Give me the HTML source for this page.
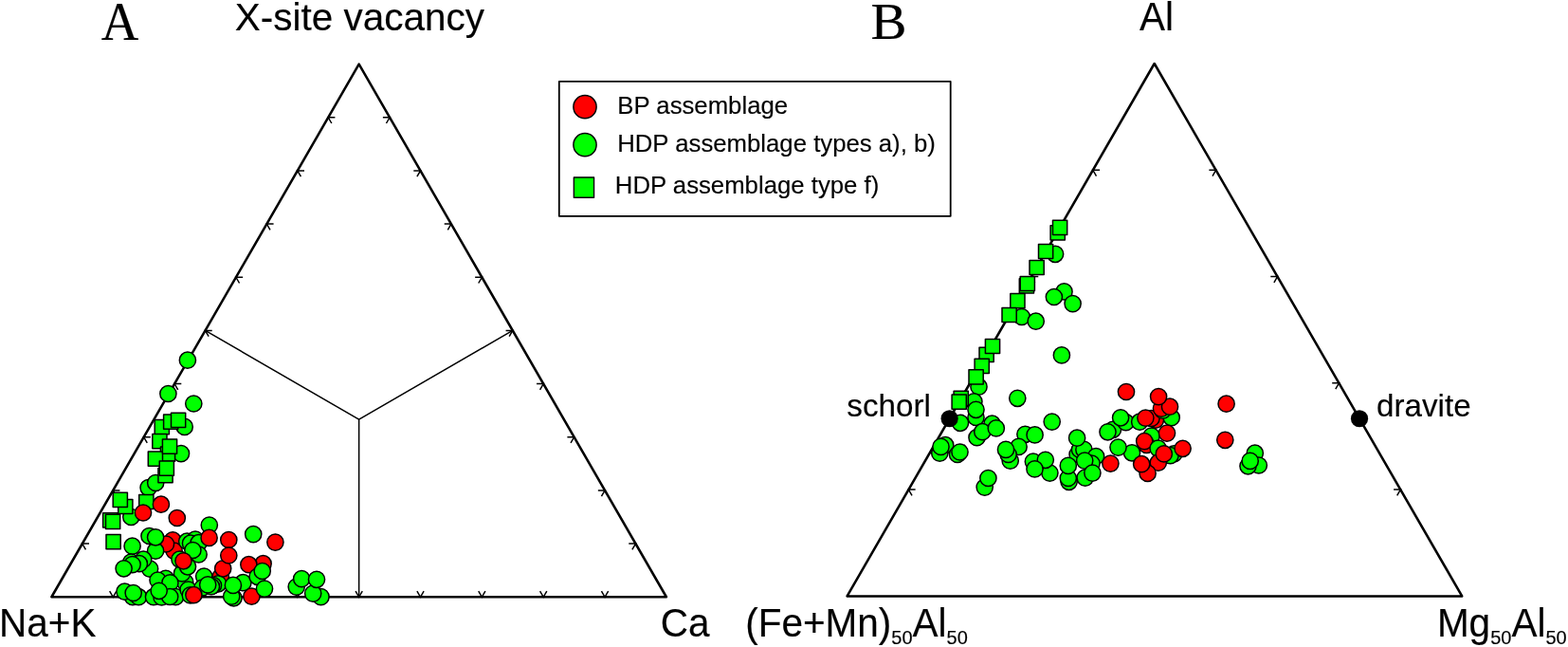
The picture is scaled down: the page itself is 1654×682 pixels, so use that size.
<!DOCTYPE html>
<html lang="en">
<head>
<meta charset="utf-8">
<title>Ternary diagrams</title>
<style>
html,body{margin:0;padding:0;background:#fff;}
body{width:1654px;height:682px;overflow:hidden;}
svg{display:block;}
</style>
</head>
<body>
<svg width="1654" height="682" viewBox="0 0 1654 682" role="img" aria-label="Ternary diagrams A and B">
<rect width="1654" height="682" fill="#fff"/>
<polygon points="54.40,629.25 702.90,629.25 378.65,67.60" fill="none" stroke="#000" stroke-width="2.55" stroke-linejoin="round"/>
<path d="M353.42 123.76 L346.22 123.76 L349.82 130.00 M407.47 130.00 L411.07 123.76 L403.88 123.76 M321.00 179.93 L313.80 179.93 L317.40 186.17 M439.90 186.17 L443.50 179.93 L436.30 179.93 M288.57 236.09 L281.38 236.09 L284.98 242.33 M472.32 242.33 L475.92 236.09 L468.72 236.09 M256.15 292.26 L248.95 292.26 L252.55 298.50 M504.75 298.50 L508.35 292.26 L501.15 292.26 M223.72 348.42 L216.52 348.42 L220.12 354.66 M537.17 354.66 L540.77 348.42 L533.57 348.42 M191.30 404.59 L184.10 404.59 L187.70 410.83 M569.60 410.83 L573.20 404.59 L566.00 404.59 M158.87 460.75 L151.67 460.75 L155.27 466.99 M602.02 466.99 L605.62 460.75 L598.42 460.75 M126.45 516.92 L119.25 516.92 L122.85 523.16 M634.45 523.16 L638.05 516.92 L630.85 516.92 M94.02 573.09 L86.82 573.09 L90.42 579.32 M666.87 579.32 L670.47 573.09 L663.27 573.09 M115.65 623.01 L119.25 629.25 L122.85 623.01 M180.50 623.01 L184.10 629.25 L187.70 623.01 M245.35 623.01 L248.95 629.25 L252.55 623.01 M310.20 623.01 L313.80 629.25 L317.40 623.01 M375.05 623.01 L378.65 629.25 L382.25 623.01 M439.90 623.01 L443.50 629.25 L447.10 623.01 M504.75 623.01 L508.35 629.25 L511.95 623.01 M569.60 623.01 L573.20 629.25 L576.80 623.01 M634.45 623.01 L638.05 629.25 L641.65 623.01" fill="none" stroke="#000" stroke-width="1.50"/>
<path d="M378.65 442.03 L216.52 348.42 M378.65 442.03 L540.77 348.42 M378.65 442.03 L378.65 629.25" fill="none" stroke="#000" stroke-width="1.50"/>
<polygon points="893.60,628.40 1542.20,628.40 1217.70,67.00" fill="none" stroke="#000" stroke-width="2.55" stroke-linejoin="round"/>
<path d="M1160.08 179.28 L1152.88 179.28 L1156.48 185.52 M1279.00 185.52 L1282.60 179.28 L1275.40 179.28 M1095.26 291.56 L1088.06 291.56 L1091.66 297.80 M1343.90 297.80 L1347.50 291.56 L1340.30 291.56 M1030.44 403.84 L1023.24 403.84 L1026.84 410.08 M1408.80 410.08 L1412.40 403.84 L1405.20 403.84 M965.62 516.12 L958.42 516.12 L962.02 522.36 M1473.70 522.36 L1477.30 516.12 L1470.10 516.12" fill="none" stroke="#000" stroke-width="1.50"/>
<g stroke="#000" stroke-width="1.50" stroke-linejoin="round">
<circle cx="197.90" cy="379.70" r="8.60" fill="#00ff00"/>
<circle cx="177.40" cy="415.00" r="8.60" fill="#00ff00"/>
<circle cx="204.30" cy="425.50" r="8.60" fill="#00ff00"/>
<circle cx="194.70" cy="449.90" r="8.60" fill="#00ff00"/>
<circle cx="191.00" cy="478.10" r="8.60" fill="#00ff00"/>
<rect x="163.20" y="442.60" width="15.20" height="15.20" fill="#00ff00"/>
<rect x="172.60" y="437.00" width="15.20" height="15.20" fill="#00ff00"/>
<rect x="180.50" y="435.20" width="15.20" height="15.20" fill="#00ff00"/>
<rect x="160.80" y="457.50" width="15.20" height="15.20" fill="#00ff00"/>
<rect x="169.40" y="471.00" width="15.20" height="15.20" fill="#00ff00"/>
<rect x="156.30" y="476.10" width="15.20" height="15.20" fill="#00ff00"/>
<rect x="171.40" y="463.00" width="15.20" height="15.20" fill="#00ff00"/>
<circle cx="156.60" cy="514.10" r="8.60" fill="#00ff00"/>
<circle cx="164.20" cy="509.00" r="8.60" fill="#00ff00"/>
<rect x="166.90" y="493.50" width="15.20" height="15.20" fill="#00ff00"/>
<rect x="168.20" y="486.00" width="15.20" height="15.20" fill="#00ff00"/>
<rect x="146.70" y="521.40" width="15.20" height="15.20" fill="#00ff00"/>
<circle cx="138.30" cy="545.00" r="8.60" fill="#00ff00"/>
<rect x="124.70" y="526.40" width="15.20" height="15.20" fill="#00ff00"/>
<rect x="119.20" y="519.30" width="15.20" height="15.20" fill="#00ff00"/>
<circle cx="169.90" cy="531.70" r="8.60" fill="#ff0000"/>
<circle cx="151.00" cy="540.50" r="8.60" fill="#ff0000"/>
<circle cx="186.80" cy="546.00" r="8.60" fill="#ff0000"/>
<rect x="108.60" y="540.80" width="15.20" height="15.20" fill="#00ff00"/>
<rect x="111.50" y="542.30" width="15.20" height="15.20" fill="#00ff00"/>
<rect x="112.00" y="563.50" width="15.20" height="15.20" fill="#00ff00"/>
<circle cx="220.80" cy="553.50" r="8.60" fill="#00ff00"/>
<circle cx="182.20" cy="569.30" r="8.60" fill="#ff0000"/>
<circle cx="183.60" cy="580.60" r="8.60" fill="#ff0000"/>
<circle cx="175.00" cy="573.50" r="8.60" fill="#ff0000"/>
<circle cx="157.50" cy="565.00" r="8.60" fill="#00ff00"/>
<circle cx="164.10" cy="580.70" r="8.60" fill="#00ff00"/>
<circle cx="164.10" cy="566.30" r="8.60" fill="#00ff00"/>
<circle cx="139.60" cy="575.70" r="8.60" fill="#00ff00"/>
<circle cx="197.20" cy="570.70" r="8.60" fill="#00ff00"/>
<circle cx="206.00" cy="568.60" r="8.60" fill="#00ff00"/>
<circle cx="201.00" cy="572.70" r="8.60" fill="#00ff00"/>
<circle cx="209.60" cy="572.20" r="8.60" fill="#00ff00"/>
<circle cx="209.60" cy="584.50" r="8.60" fill="#00ff00"/>
<circle cx="203.40" cy="580.00" r="8.60" fill="#00ff00"/>
<circle cx="220.60" cy="566.90" r="8.60" fill="#ff0000"/>
<circle cx="195.20" cy="613.60" r="8.60" fill="#00ff00"/>
<circle cx="192.00" cy="604.40" r="8.60" fill="#00ff00"/>
<circle cx="198.00" cy="597.30" r="8.60" fill="#00ff00"/>
<circle cx="189.50" cy="589.60" r="8.60" fill="#00ff00"/>
<circle cx="193.50" cy="591.30" r="8.60" fill="#ff0000"/>
<circle cx="158.10" cy="599.60" r="8.60" fill="#00ff00"/>
<circle cx="151.20" cy="589.70" r="8.60" fill="#00ff00"/>
<circle cx="138.30" cy="592.50" r="8.60" fill="#00ff00"/>
<circle cx="146.90" cy="594.20" r="8.60" fill="#00ff00"/>
<circle cx="139.60" cy="595.10" r="8.60" fill="#00ff00"/>
<circle cx="130.60" cy="599.30" r="8.60" fill="#00ff00"/>
<circle cx="174.80" cy="609.80" r="8.60" fill="#00ff00"/>
<circle cx="166.50" cy="611.60" r="8.60" fill="#00ff00"/>
<circle cx="179.40" cy="614.40" r="8.60" fill="#00ff00"/>
<circle cx="140.00" cy="629.20" r="8.60" fill="#00ff00"/>
<circle cx="146.20" cy="629.20" r="8.60" fill="#00ff00"/>
<circle cx="131.50" cy="623.70" r="8.60" fill="#00ff00"/>
<circle cx="140.70" cy="625.00" r="8.60" fill="#00ff00"/>
<circle cx="162.00" cy="629.20" r="8.60" fill="#00ff00"/>
<circle cx="170.50" cy="629.50" r="8.60" fill="#00ff00"/>
<circle cx="185.20" cy="629.20" r="8.60" fill="#00ff00"/>
<circle cx="179.20" cy="629.00" r="8.60" fill="#00ff00"/>
<circle cx="167.70" cy="622.80" r="8.60" fill="#00ff00"/>
<circle cx="198.60" cy="621.60" r="8.60" fill="#00ff00"/>
<circle cx="200.80" cy="627.40" r="8.60" fill="#00ff00"/>
<circle cx="232.80" cy="607.80" r="8.60" fill="#ff0000"/>
<circle cx="215.20" cy="607.60" r="8.60" fill="#00ff00"/>
<circle cx="213.50" cy="619.50" r="8.60" fill="#00ff00"/>
<circle cx="230.20" cy="615.30" r="8.60" fill="#00ff00"/>
<circle cx="225.00" cy="617.00" r="8.60" fill="#00ff00"/>
<circle cx="222.90" cy="618.20" r="8.60" fill="#00ff00"/>
<circle cx="219.20" cy="616.40" r="8.60" fill="#00ff00"/>
<circle cx="204.40" cy="627.20" r="8.60" fill="#ff0000"/>
<circle cx="235.20" cy="599.30" r="8.60" fill="#ff0000"/>
<circle cx="241.30" cy="569.00" r="8.60" fill="#ff0000"/>
<circle cx="241.30" cy="585.50" r="8.60" fill="#ff0000"/>
<circle cx="246.50" cy="630.30" r="8.60" fill="#00ff00"/>
<circle cx="244.20" cy="628.70" r="8.60" fill="#00ff00"/>
<circle cx="256.40" cy="614.20" r="8.60" fill="#00ff00"/>
<circle cx="245.90" cy="616.90" r="8.60" fill="#00ff00"/>
<circle cx="265.40" cy="628.70" r="8.60" fill="#ff0000"/>
<circle cx="277.60" cy="594.20" r="8.60" fill="#ff0000"/>
<circle cx="262.40" cy="595.20" r="8.60" fill="#ff0000"/>
<circle cx="271.60" cy="607.80" r="8.60" fill="#00ff00"/>
<circle cx="276.70" cy="602.00" r="8.60" fill="#00ff00"/>
<circle cx="279.00" cy="620.60" r="8.60" fill="#00ff00"/>
<circle cx="267.20" cy="563.10" r="8.60" fill="#00ff00"/>
<circle cx="290.40" cy="571.60" r="8.60" fill="#ff0000"/>
<circle cx="312.70" cy="618.60" r="8.60" fill="#00ff00"/>
<circle cx="318.20" cy="610.10" r="8.60" fill="#00ff00"/>
<circle cx="338.50" cy="629.10" r="8.60" fill="#00ff00"/>
<circle cx="330.20" cy="625.60" r="8.60" fill="#00ff00"/>
<circle cx="334.00" cy="610.80" r="8.60" fill="#00ff00"/>
<rect x="1108.10" y="237.80" width="15.20" height="15.20" fill="#00ff00"/>
<rect x="1110.50" y="232.30" width="15.20" height="15.20" fill="#00ff00"/>
<circle cx="1113.10" cy="267.80" r="8.60" fill="#00ff00"/>
<rect x="1095.50" y="257.40" width="15.20" height="15.20" fill="#00ff00"/>
<rect x="1086.00" y="274.40" width="15.20" height="15.20" fill="#00ff00"/>
<rect x="1075.30" y="293.70" width="15.20" height="15.20" fill="#00ff00"/>
<rect x="1076.20" y="291.40" width="15.20" height="15.20" fill="#00ff00"/>
<rect x="1065.80" y="309.60" width="15.20" height="15.20" fill="#00ff00"/>
<circle cx="1077.80" cy="334.00" r="8.60" fill="#00ff00"/>
<circle cx="1092.70" cy="338.70" r="8.60" fill="#00ff00"/>
<rect x="1057.00" y="324.40" width="15.20" height="15.20" fill="#00ff00"/>
<rect x="1033.00" y="366.30" width="15.20" height="15.20" fill="#00ff00"/>
<rect x="1039.40" y="357.40" width="15.20" height="15.20" fill="#00ff00"/>
<rect x="1028.10" y="378.20" width="15.20" height="15.20" fill="#00ff00"/>
<circle cx="1032.50" cy="407.70" r="8.60" fill="#00ff00"/>
<rect x="1022.00" y="389.80" width="15.20" height="15.20" fill="#00ff00"/>
<circle cx="1122.50" cy="307.40" r="8.60" fill="#00ff00"/>
<circle cx="1111.90" cy="313.00" r="8.60" fill="#00ff00"/>
<circle cx="1131.60" cy="320.10" r="8.60" fill="#00ff00"/>
<circle cx="1119.90" cy="374.40" r="8.60" fill="#00ff00"/>
<circle cx="1073.30" cy="419.80" r="8.60" fill="#00ff00"/>
<circle cx="1109.70" cy="444.60" r="8.60" fill="#00ff00"/>
<circle cx="1027.40" cy="423.30" r="8.60" fill="#00ff00"/>
<rect x="1006.10" y="412.30" width="15.20" height="15.20" fill="#00ff00"/>
<rect x="1004.10" y="416.10" width="15.20" height="15.20" fill="#00ff00"/>
<circle cx="1029.50" cy="439.90" r="8.60" fill="#00ff00"/>
<circle cx="1029.50" cy="431.80" r="8.60" fill="#00ff00"/>
<circle cx="1013.00" cy="445.80" r="8.60" fill="#00ff00"/>
<circle cx="1046.50" cy="446.70" r="8.60" fill="#00ff00"/>
<circle cx="1030.50" cy="461.20" r="8.60" fill="#00ff00"/>
<circle cx="1036.30" cy="455.20" r="8.60" fill="#00ff00"/>
<circle cx="1050.80" cy="451.40" r="8.60" fill="#00ff00"/>
<circle cx="997.20" cy="469.20" r="8.60" fill="#00ff00"/>
<circle cx="991.30" cy="477.70" r="8.60" fill="#00ff00"/>
<circle cx="992.50" cy="470.90" r="8.60" fill="#00ff00"/>
<circle cx="1010.00" cy="479.00" r="8.60" fill="#00ff00"/>
<circle cx="1012.50" cy="476.50" r="8.60" fill="#00ff00"/>
<circle cx="1081.40" cy="457.80" r="8.60" fill="#00ff00"/>
<circle cx="1091.60" cy="458.40" r="8.60" fill="#00ff00"/>
<circle cx="1074.60" cy="470.90" r="8.60" fill="#00ff00"/>
<circle cx="1065.70" cy="485.70" r="8.60" fill="#00ff00"/>
<circle cx="1063.60" cy="479.00" r="8.60" fill="#00ff00"/>
<circle cx="1061.00" cy="473.90" r="8.60" fill="#00ff00"/>
<circle cx="1107.40" cy="498.60" r="8.60" fill="#00ff00"/>
<circle cx="1089.90" cy="486.60" r="8.60" fill="#00ff00"/>
<circle cx="1102.80" cy="484.80" r="8.60" fill="#00ff00"/>
<circle cx="1091.50" cy="494.40" r="8.60" fill="#00ff00"/>
<circle cx="1038.70" cy="513.60" r="8.60" fill="#00ff00"/>
<circle cx="1042.40" cy="504.00" r="8.60" fill="#00ff00"/>
<circle cx="1136.60" cy="479.00" r="8.60" fill="#00ff00"/>
<circle cx="1139.00" cy="474.00" r="8.60" fill="#00ff00"/>
<circle cx="1143.40" cy="473.90" r="8.60" fill="#00ff00"/>
<circle cx="1136.10" cy="461.70" r="8.60" fill="#00ff00"/>
<circle cx="1156.10" cy="481.00" r="8.60" fill="#00ff00"/>
<circle cx="1151.50" cy="488.60" r="8.60" fill="#00ff00"/>
<circle cx="1144.20" cy="485.60" r="8.60" fill="#00ff00"/>
<circle cx="1127.60" cy="507.80" r="8.60" fill="#00ff00"/>
<circle cx="1126.80" cy="504.00" r="8.60" fill="#00ff00"/>
<circle cx="1126.80" cy="490.90" r="8.60" fill="#00ff00"/>
<circle cx="1144.70" cy="503.60" r="8.60" fill="#00ff00"/>
<circle cx="1152.40" cy="498.60" r="8.60" fill="#00ff00"/>
<circle cx="1171.40" cy="488.60" r="8.60" fill="#ff0000"/>
<circle cx="1174.00" cy="452.80" r="8.60" fill="#00ff00"/>
<circle cx="1168.50" cy="455.30" r="8.60" fill="#00ff00"/>
<circle cx="1187.60" cy="445.20" r="8.60" fill="#00ff00"/>
<circle cx="1182.10" cy="440.30" r="8.60" fill="#00ff00"/>
<circle cx="1194.00" cy="477.30" r="8.60" fill="#00ff00"/>
<circle cx="1179.50" cy="471.60" r="8.60" fill="#00ff00"/>
<circle cx="1202.20" cy="444.70" r="8.60" fill="#00ff00"/>
<circle cx="1219.00" cy="442.60" r="8.60" fill="#ff0000"/>
<circle cx="1214.50" cy="441.00" r="8.60" fill="#ff0000"/>
<circle cx="1208.40" cy="440.60" r="8.60" fill="#ff0000"/>
<circle cx="1235.70" cy="440.20" r="8.60" fill="#00ff00"/>
<circle cx="1226.50" cy="432.60" r="8.60" fill="#00ff00"/>
<circle cx="1225.00" cy="430.60" r="8.60" fill="#ff0000"/>
<circle cx="1234.00" cy="428.70" r="8.60" fill="#ff0000"/>
<circle cx="1222.10" cy="418.10" r="8.60" fill="#ff0000"/>
<circle cx="1188.00" cy="413.00" r="8.60" fill="#ff0000"/>
<circle cx="1214.60" cy="459.60" r="8.60" fill="#00ff00"/>
<circle cx="1209.50" cy="469.00" r="8.60" fill="#ff0000"/>
<circle cx="1207.20" cy="465.10" r="8.60" fill="#ff0000"/>
<circle cx="1231.00" cy="456.60" r="8.60" fill="#ff0000"/>
<circle cx="1221.60" cy="472.60" r="8.60" fill="#00ff00"/>
<circle cx="1238.30" cy="478.40" r="8.60" fill="#00ff00"/>
<circle cx="1234.50" cy="480.20" r="8.60" fill="#00ff00"/>
<circle cx="1221.80" cy="487.70" r="8.60" fill="#ff0000"/>
<circle cx="1227.80" cy="478.40" r="8.60" fill="#ff0000"/>
<circle cx="1247.60" cy="472.80" r="8.60" fill="#ff0000"/>
<circle cx="1210.60" cy="498.90" r="8.60" fill="#ff0000"/>
<circle cx="1204.20" cy="489.20" r="8.60" fill="#ff0000"/>
<circle cx="1293.60" cy="425.70" r="8.60" fill="#ff0000"/>
<circle cx="1292.30" cy="463.80" r="8.60" fill="#ff0000"/>
<circle cx="1323.80" cy="477.70" r="8.60" fill="#00ff00"/>
<circle cx="1327.80" cy="490.50" r="8.60" fill="#00ff00"/>
<circle cx="1316.50" cy="491.30" r="8.60" fill="#00ff00"/>
<circle cx="1318.70" cy="485.90" r="8.60" fill="#00ff00"/>
</g>
<circle cx="1001.63" cy="441.27" r="9.1" fill="#000"/>
<circle cx="1434.03" cy="441.27" r="9.1" fill="#000"/>
<rect x="589.8" y="85.9" width="412.9" height="141.9" fill="#fff" stroke="#000" stroke-width="1.8" stroke-linejoin="round"/>
<circle cx="617.0" cy="112.7" r="12.1" fill="#ff0000" stroke="#000" stroke-width="1.5"/>
<circle cx="617.0" cy="152.7" r="12.1" fill="#00ff00" stroke="#000" stroke-width="1.5"/>
<rect x="605.35" y="187.0" width="21.2" height="21.2" fill="#00ff00" stroke="#000" stroke-width="1.4" stroke-linejoin="round"/>
<text transform="translate(651.30 119.50) scale(1 1.0000)" font-size="25.74" font-family="'Liberation Sans', sans-serif" fill="#000" stroke="#000" stroke-width="0.15" stroke-linejoin="round">BP assemblage</text>
<text transform="translate(651.20 159.50) scale(1 1.0000)" font-size="25.74" font-family="'Liberation Sans', sans-serif" fill="#000" stroke="#000" stroke-width="0.15" stroke-linejoin="round">HDP assemblage types a), b)</text>
<text transform="translate(648.80 203.90) scale(1 1.0000)" font-size="25.74" font-family="'Liberation Sans', sans-serif" fill="#000" stroke="#000" stroke-width="0.15" stroke-linejoin="round">HDP assemblage type f)</text>
<text transform="translate(106.85 41.90) scale(1 1.0460)" font-size="54.75" font-family="'Liberation Serif', serif" fill="#000" stroke="#000" stroke-width="0.20" stroke-linejoin="round">A</text>
<text transform="translate(918.45 40.50) scale(1 0.9750)" font-size="57.00" font-family="'Liberation Serif', serif" fill="#000" stroke="#000" stroke-width="0.20" stroke-linejoin="round">B</text>
<text transform="translate(247.80 32.30) scale(1 1.0150)" font-size="40.50" font-family="'Liberation Sans', sans-serif" fill="#000" stroke="#000" stroke-width="0.15" stroke-linejoin="round">X-site vacancy</text>
<text transform="translate(1202.00 32.30) scale(1 1.0400)" font-size="40.50" font-family="'Liberation Sans', sans-serif" fill="#000" stroke="#000" stroke-width="0.15" stroke-linejoin="round">Al</text>
<text transform="translate(-1.00 670.60) scale(1 1.0400)" font-size="40.50" font-family="'Liberation Sans', sans-serif" fill="#000" stroke="#000" stroke-width="0.15" stroke-linejoin="round">Na+K</text>
<text transform="translate(696.70 670.60) scale(1 1.0400)" font-size="40.50" font-family="'Liberation Sans', sans-serif" fill="#000" stroke="#000" stroke-width="0.15" stroke-linejoin="round">Ca</text>
<text transform="translate(786.20 670.60) scale(1 1.0400)" font-size="40.50" font-family="'Liberation Sans', sans-serif" fill="#000" stroke="#000" stroke-width="0.15" stroke-linejoin="round">(Fe+Mn)<tspan font-size="20" dy="7.69">50</tspan><tspan dy="-7.69">Al</tspan><tspan font-size="20" dy="7.69">50</tspan></text>
<text transform="translate(1515.90 670.60) scale(1 1.0400)" font-size="40.50" font-family="'Liberation Sans', sans-serif" fill="#000" stroke="#000" stroke-width="0.15" stroke-linejoin="round">Mg<tspan font-size="20" dy="7.69">50</tspan><tspan dy="-7.69">Al</tspan><tspan font-size="20" dy="7.69">50</tspan></text>
<text transform="translate(893.30 438.70) scale(1 0.9900)" font-size="33.20" font-family="'Liberation Sans', sans-serif" fill="#000" stroke="#000" stroke-width="0.15" stroke-linejoin="round">schorl</text>
<text transform="translate(1452.00 438.60) scale(1 0.9900)" font-size="33.20" font-family="'Liberation Sans', sans-serif" fill="#000" stroke="#000" stroke-width="0.15" stroke-linejoin="round">dravite</text>
</svg>
</body>
</html>
